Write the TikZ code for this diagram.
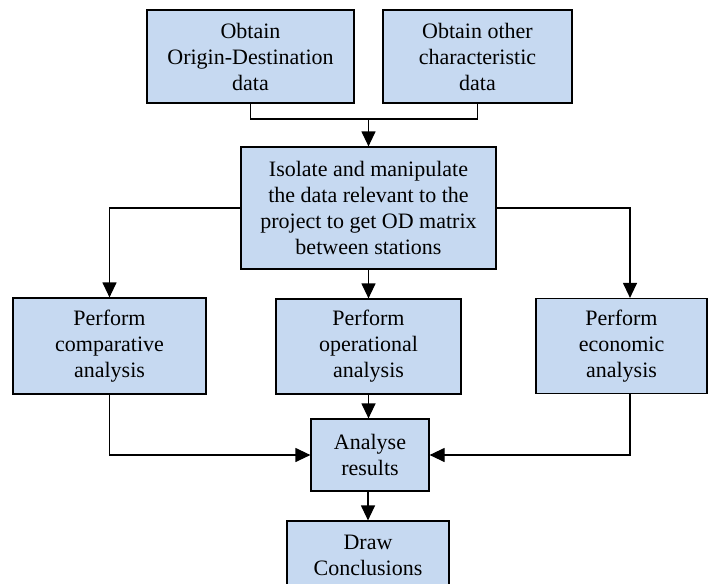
\documentclass[tikz,border=0pt]{standalone}
\usepackage{fontspec}
\setmainfont{Liberation Serif}
\usepackage{tikz}
\usetikzlibrary{arrows.meta}
\definecolor{boxblue}{HTML}{C6D9F1}

\begin{document}
\begin{tikzpicture}[x=1pt,y=-1pt]
\useasboundingbox (0,0) rectangle (708,583);
\clip (0,0) rectangle (708,583);
\begin{scope}[every node/.style={rectangle,draw,line width=1.2pt,fill=boxblue,inner sep=0pt,align=center,font=\fontsize{22}{26}\selectfont}]
    \node (A)[minimum width=207pt,minimum height=93pt] at (250.5,56.5) {Obtain\\Origin-Destination\\data};
    \node (B)[minimum width=189pt,minimum height=93pt] at (477.5,56.5) {Obtain other\\characteristic\\data};
    \node (C)[minimum width=255pt,minimum height=122pt] at (368.5,208) {Isolate and manipulate\\the data relevant to the\\project to get OD matrix\\between stations};
    \node (D)[minimum width=193pt,minimum height=96pt] at (109.5,346) {Perform\\comparative\\analysis};
    \node (E)[minimum width=185pt,minimum height=95pt] at (368.5,346.5) {Perform\\operational\\analysis};
    \node (F)[minimum width=171pt,minimum height=95pt] at (621.5,346) {Perform\\economic\\analysis};
    \node (G)[minimum width=118pt,minimum height=72pt] at (370,455) {Analyse\\results};
    \node (H)[minimum width=162pt,minimum height=68pt] at (368,555) {Draw\\Conclusions};
\end{scope}
\coordinate (J) at (368.5,119);

\begin{scope}[line width=1.2pt,>={Triangle[length=15pt,width=14pt]}]
    \draw (A.south) |- (J);
    \draw (B.south) |- (J);
    \draw[->] (J) -- (C.north);
    \draw[->] (C.west) -| (D.north);
    \draw[->] (C.south) -- (E.north);
    \draw[->] (C.east) -| ([xshift=8.5pt]F.north);
    \draw[->] (D.south) |- (G.west);
    \draw[->] (E.south) -- (E.south |- G.north);
    \draw[->] ([xshift=8.5pt]F.south) |- (G.east);
    \draw[->] (G.south) -- (G.south -| H.north) -- (H.north);
\end{scope}
\end{tikzpicture}
\end{document}
